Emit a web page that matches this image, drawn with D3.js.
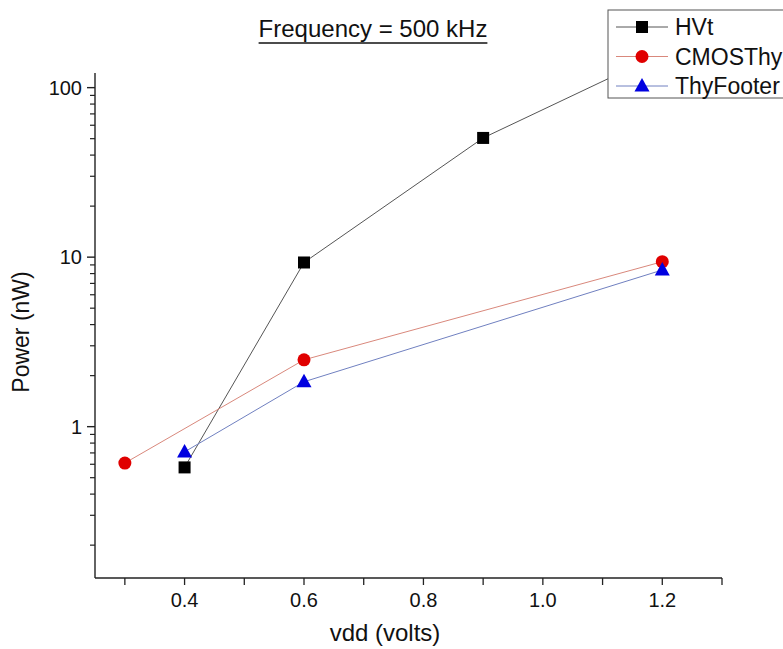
<!DOCTYPE html>
<html>
<head>
<meta charset="utf-8">
<script src="https://cdn.jsdelivr.net/npm/d3@7"></script>
<style>
  body { margin: 0; background: #fff; }
  text { font-family: "Liberation Sans", Arial, sans-serif; fill: #111; }
</style>
</head>
<body>
<div id="chart"></div>
<script>
// data
var seriesNames = ["HVt", "CMOSThy", "ThyFooter"];
var hvtVdd = [0.4, 0.6, 0.9, 1.2];
var hvtPower = [0.575, 9.3, 50.5, 160];
var cmosVdd = [0.3, 0.6, 1.2];
var cmosPower = [0.61, 2.48, 9.4];
var footVdd = [0.4, 0.6, 1.2];
var footPower = [0.71, 1.84, 8.4];
var xTickLabels = [0.4, 0.6, 0.8, 1.0, 1.2];
var yTickLabels = [1, 10, 100];

var series = [
  {name: seriesNames[0], x: hvtVdd, y: hvtPower, line: "#555", fill: "#000", shape: "square"},
  {name: seriesNames[1], x: cmosVdd, y: cmosPower, line: "#d9887c", fill: "#e00000", shape: "circle"},
  {name: seriesNames[2], x: footVdd, y: footPower, line: "#7080c0", fill: "#0000e0", shape: "triangle"}
];

var width = 783, height = 649;
var margin = {top: 73, right: 61, bottom: 71, left: 95};

var svg = d3.select("#chart").append("svg")
    .attr("width", width)
    .attr("height", height);

var x = d3.scaleLinear().domain([0.25, 1.3]).range([margin.left, width - margin.right]);
var y = d3.scaleLog().domain([0.128, 122]).range([height - margin.bottom, margin.top]);

// title
var title = svg.append("text")
    .attr("x", 373).attr("y", 37)
    .attr("text-anchor", "middle")
    .style("font-size", "24px")
    .text("Frequency = 500 kHz");
var tb = title.node().getBBox();
svg.append("line")
    .attr("x1", tb.x).attr("x2", tb.x + tb.width)
    .attr("y1", 43).attr("y2", 43)
    .attr("stroke", "#111").attr("stroke-width", 1.5);

// x axis: minor ticks every 0.1, labels every 0.2
var xMinor = d3.range(3, 14).map(function(d) { return d / 10; });
var xAxis = svg.append("g").attr("transform", "translate(0," + y.range()[0] + ")");
xAxis.append("line")
    .attr("x1", x.range()[0]).attr("x2", x.range()[1])
    .attr("stroke", "#222").attr("stroke-width", 1.4);
xAxis.selectAll(".minor").data(xMinor).enter().append("line")
    .attr("x1", function(d) { return x(d); }).attr("x2", function(d) { return x(d); })
    .attr("y1", 0).attr("y2", 7)
    .attr("stroke", "#222").attr("stroke-width", 1.3);
xAxis.selectAll(".lbl").data(xTickLabels).enter().append("text")
    .attr("x", function(d) { return x(d); })
    .attr("y", 29)
    .attr("text-anchor", "middle")
    .style("font-size", "20px")
    .text(function(d) { return d3.format(".1f")(d); });

// y axis: log, minor ticks 2..9 each decade
var yMinor = [];
[0.1, 1, 10].forEach(function(dec) {
  for (var k = 2; k <= 9; k++) {
    var v = dec * k;
    if (v >= y.domain()[0] && v <= y.domain()[1]) yMinor.push(v);
  }
});
var yAxis = svg.append("g").attr("transform", "translate(" + x.range()[0] + ",0)");
yAxis.append("line")
    .attr("y1", y.range()[0]).attr("y2", y.range()[1])
    .attr("stroke", "#222").attr("stroke-width", 1.4);
yAxis.selectAll(".minor").data(yMinor).enter().append("line")
    .attr("y1", function(d) { return y(d); }).attr("y2", function(d) { return y(d); })
    .attr("x1", -5).attr("x2", 0)
    .attr("stroke", "#222").attr("stroke-width", 1.2);
yAxis.selectAll(".major").data(yTickLabels).enter().append("line")
    .attr("y1", function(d) { return y(d); }).attr("y2", function(d) { return y(d); })
    .attr("x1", -8).attr("x2", 0)
    .attr("stroke", "#222").attr("stroke-width", 1.4);
yAxis.selectAll(".lbl").data(yTickLabels).enter().append("text")
    .attr("x", -13)
    .attr("y", function(d) { return y(d); })
    .attr("dy", "0.35em")
    .attr("text-anchor", "end")
    .style("font-size", "20px")
    .text(function(d) { return d; });

// axis titles
svg.append("text")
    .attr("x", 385).attr("y", 641)
    .attr("text-anchor", "middle")
    .style("font-size", "24px")
    .text("vdd (volts)");
svg.append("text")
    .attr("transform", "translate(29,332) rotate(-90)")
    .attr("text-anchor", "middle")
    .style("font-size", "23px")
    .text("Power (nW)");

// lines
var line = d3.line()
    .x(function(d) { return x(d[0]); })
    .y(function(d) { return y(d[1]); });

series.forEach(function(s) {
  var pts = d3.zip(s.x, s.y);
  svg.append("path")
      .datum(pts)
      .attr("d", line)
      .attr("fill", "none")
      .attr("stroke", s.line)
      .attr("stroke-width", 1);
});

function drawMarker(g, s, cx, cy) {
  if (s.shape === "square") {
    g.append("rect").attr("x", cx - 6).attr("y", cy - 6).attr("width", 12).attr("height", 12).attr("fill", s.fill);
  } else if (s.shape === "circle") {
    g.append("circle").attr("cx", cx).attr("cy", cy).attr("r", 6.5).attr("fill", s.fill);
  } else {
    g.append("path").attr("d", "M" + cx + "," + (cy - 8) + "L" + (cx + 7.5) + "," + (cy + 5.5) + "L" + (cx - 7.5) + "," + (cy + 5.5) + "Z").attr("fill", s.fill);
  }
}

series.forEach(function(s) {
  var g = svg.append("g");
  d3.zip(s.x, s.y).forEach(function(p) { drawMarker(g, s, x(p[0]), y(p[1])); });
});

// legend
var legend = svg.append("g");
legend.append("rect")
    .attr("x", 608).attr("y", 10)
    .attr("width", 190).attr("height", 88)
    .attr("fill", "#fff").attr("stroke", "#555").attr("stroke-width", 1);
series.forEach(function(s, i) {
  var ly = 27 + i * 29.5;
  legend.append("line")
      .attr("x1", 616).attr("x2", 668)
      .attr("y1", ly).attr("y2", ly)
      .attr("stroke", s.line).attr("stroke-width", 1);
  drawMarker(legend, s, 642, ly);
  legend.append("text")
      .attr("x", 675).attr("y", ly)
      .attr("dy", "0.36em")
      .style("font-size", "23px")
      .text(s.name);
});
</script>
</body>
</html>
